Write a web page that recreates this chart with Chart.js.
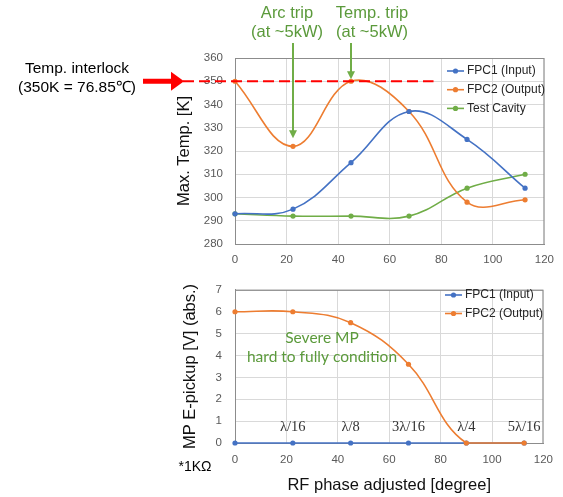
<!DOCTYPE html>
<html>
<head>
<meta charset="utf-8">
<script src="https://cdn.jsdelivr.net/npm/chart.js@4.4.1/dist/chart.umd.min.js"></script>
<style>
html, body { margin: 0; padding: 0; background: #fff; }
#wrap { position: relative; width: 563px; height: 497px; overflow: hidden; }
.box { position: absolute; left: 0; width: 563px; }
#top { top: 0; height: 270px; }
#bot { top: 270px; height: 227px; }
</style>
</head>
<body>
<div id="wrap">
  <div class="box" id="top"><canvas id="tempChart" width="563" height="270"></canvas></div>
  <div class="box" id="bot"><canvas id="mpChart" width="563" height="227"></canvas></div>
</div>
<script>
// phase steps (degree) and readings
const phase = [0, 22.5, 45, 67.5, 90, 112.5];
const tempFpc1 = [293, 295, 315, 337, 325, 304];
const tempFpc2 = [350, 322, 350, 337, 298, 299];
const tempCavity = [293, 292, 292, 292, 304, 310];
const mpFpc1 = [0, 0, 0, 0, 0, 0];
const mpFpc2 = [6, 6, 5.5, 3.6, 0, 0];
const lambdaLabels = ['λ/16', 'λ/8', '3λ/16', 'λ/4', '5λ/16'];
const lambdaPhase = [22.5, 45, 67.5, 90, 112.5];

const phaseMin = 0, phaseMax = 120, phaseStep = 20;
const tempMin = 280, tempMax = 360, tempStep = 10;
const mpMin = 0, mpMax = 7, mpStep = 1;
const interlockTemp = 350;

const blue = '#4472C4';
const orange = '#ED7D31';
const green = '#70AD47';
const textGreen = '#5B9A3B';
const sans = '"Liberation Sans", Arial, sans-serif';

function toPoints(xs, ys) {
    return xs.map((x, i) => ({ x: x, y: ys[i] }));
}

function lineSet(label, xs, ys, color, order) {
    return {
        label: label,
        data: toPoints(xs, ys),
        borderColor: color,
        backgroundColor: color,
        borderWidth: 1.6,
        pointRadius: 2.6,
        pointBorderWidth: 0,
        pointBackgroundColor: color,
        tension: 0.4,
        clip: 5,
        order: order
    };
}

// common axis options, sizes forced so both plots line up
function makeScales(yMin, yMax, yStep, yTitle, xHeight, yPad, xPad, titleTop) {
    return {
        x: {
            type: 'linear', min: phaseMin, max: phaseMax,
            ticks: { stepSize: phaseStep, padding: xPad, color: '#595959', font: { family: sans, size: 11.5 } },
            grid: { color: '#d9d9d9', drawTicks: false },
            border: { color: '#8c8c8c' },
            afterFit: function(s) { s.height = xHeight; }
        },
        y: {
            min: yMin, max: yMax,
            ticks: { stepSize: yStep, padding: yPad, color: '#595959', font: { family: sans, size: 11.5 } },
            grid: { color: '#d9d9d9', drawTicks: false },
            border: { color: '#8c8c8c' },
            title: { display: true, text: yTitle, color: '#111', font: { family: sans, size: 16.5 }, padding: { top: titleTop, bottom: 0 } },
            afterFit: function(s) { s.width = 65; }
        }
    };
}

function drawFrame(chart) {
    let ctx = chart.ctx, a = chart.chartArea;
    ctx.save();
    ctx.strokeStyle = '#8c8c8c';
    ctx.lineWidth = 1;
    ctx.strokeRect(a.left + 0.5, a.top + 0.5, a.right - a.left - 1, a.bottom - a.top);
    ctx.restore();
}

function drawLegend(chart, x, y0, gap) {
    let ctx = chart.ctx;
    ctx.save();
    chart.data.datasets.forEach(function(ds, i) {
        let y = y0 + i * gap;
        ctx.strokeStyle = ds.borderColor;
        ctx.lineWidth = 1.6;
        ctx.beginPath();
        ctx.moveTo(x, y);
        ctx.lineTo(x + 17, y);
        ctx.stroke();
        ctx.fillStyle = ds.borderColor;
        ctx.beginPath();
        ctx.arc(x + 8.5, y, 2.6, 0, Math.PI * 2);
        ctx.fill();
        ctx.fillStyle = '#262626';
        ctx.font = '12px ' + sans;
        ctx.textAlign = 'left';
        ctx.textBaseline = 'middle';
        ctx.fillText(ds.label, x + 20, y);
    });
    ctx.restore();
}

function greenArrow(ctx, x, yTop, yTip) {
    ctx.strokeStyle = green;
    ctx.fillStyle = green;
    ctx.lineWidth = 2;
    ctx.beginPath();
    ctx.moveTo(x, yTop);
    ctx.lineTo(x, yTip - 6);
    ctx.stroke();
    ctx.beginPath();
    ctx.moveTo(x - 4, yTip - 8);
    ctx.lineTo(x + 4, yTip - 8);
    ctx.lineTo(x, yTip);
    ctx.closePath();
    ctx.fill();
}

const tempDecor = {
    id: 'tempDecor',
    beforeDatasetsDraw: function(chart) { drawFrame(chart); },
    afterDatasetsDraw: function(chart) {
        let ctx = chart.ctx;
        let xs = chart.scales.x, ys = chart.scales.y;
        let yLock = ys.getPixelForValue(interlockTemp);
        ctx.save();
        // interlock level
        ctx.strokeStyle = '#FF0000';
        ctx.lineWidth = 2;
        ctx.setLineDash([11, 5]);
        ctx.beginPath();
        ctx.moveTo(183, yLock);
        ctx.lineTo(xs.getPixelForValue(77), yLock);
        ctx.stroke();
        ctx.setLineDash([]);
        // red arrow
        ctx.fillStyle = '#FF0000';
        ctx.fillRect(143, yLock - 2.5, 30, 5);
        ctx.beginPath();
        ctx.moveTo(171, yLock - 9.5);
        ctx.lineTo(184, yLock);
        ctx.lineTo(171, yLock + 9.5);
        ctx.closePath();
        ctx.fill();
        // trip markers
        greenArrow(ctx, xs.getPixelForValue(22.5), 43, ys.getPixelForValue(322) - 8);
        greenArrow(ctx, xs.getPixelForValue(45), 43, ys.getPixelForValue(350) - 2);
        // texts
        ctx.textAlign = 'center';
        ctx.textBaseline = 'middle';
        ctx.fillStyle = textGreen;
        ctx.font = '16.5px ' + sans;
        ctx.fillText('Arc trip', 287, 13);
        ctx.fillText('(at ~5kW)', 287, 32);
        ctx.fillText('Temp. trip', 372, 13);
        ctx.fillText('(at ~5kW)', 372, 32);
        ctx.fillStyle = '#000';
        ctx.font = '15.5px ' + sans;
        ctx.fillText('Temp. interlock', 77, 69);
        ctx.fillText('(350K = 76.85\u2103)', 77, 88);
        ctx.restore();
        drawLegend(chart, 447, 71, 18.7);
    }
};

const mpDecor = {
    id: 'mpDecor',
    beforeDatasetsDraw: function(chart) { drawFrame(chart); },
    afterDatasetsDraw: function(chart) {
        let ctx = chart.ctx;
        let xs = chart.scales.x, ys = chart.scales.y;
        ctx.save();
        ctx.textAlign = 'center';
        ctx.textBaseline = 'middle';
        // phase in wavelengths
        ctx.fillStyle = '#333';
        ctx.font = '14.5px "Liberation Serif", serif';
        let yl = ys.getPixelForValue(0) - 16;
        for (let i = 0; i < lambdaLabels.length; i++) {
            ctx.fillText(lambdaLabels[i], xs.getPixelForValue(lambdaPhase[i]), yl);
        }
        // note
        ctx.fillStyle = textGreen;
        ctx.font = '15px Lato, sans-serif';
        let w = ctx.measureText('hard to fully condition').width;
        ctx.font = (15 * 150 / w).toFixed(2) + 'px Lato, sans-serif';
        ctx.fillText('Severe MP', 322, 68);
        ctx.fillText('hard to fully condition', 322, 87);
        ctx.fillStyle = '#000';
        ctx.font = '14px ' + sans;
        ctx.fillText('*1K\u03A9', 195, 197);
        ctx.restore();
        drawLegend(chart, 445, 25, 18.5);
    }
};

Chart.defaults.font.family = sans;

new Chart(document.getElementById('tempChart'), {
    type: 'line',
    data: {
        datasets: [
            lineSet('FPC1 (Input)', phase, tempFpc1, blue, 0),
            lineSet('FPC2 (Output)', phase, tempFpc2, orange, 1),
            lineSet('Test Cavity', phase, tempCavity, green, 2)
        ]
    },
    options: {
        responsive: false,
        devicePixelRatio: 1,
        animation: false,
        layout: { padding: { left: 170, top: 58, right: 16, bottom: 0 } },
        plugins: { legend: { display: false }, tooltip: { enabled: false } },
        scales: makeScales(tempMin, tempMax, tempStep, 'Max. Temp. [K]', 26, 12, 9, 5)
    },
    plugins: [tempDecor]
});

let mpScales = makeScales(mpMin, mpMax, mpStep, 'MP E-pickup [V] (abs.)', 54, 13, 10, 11);
mpScales.x.title = { display: true, text: 'RF phase adjusted [degree]', color: '#111', font: { family: sans, size: 16.5 }, padding: { top: 0, bottom: 2 } };

new Chart(document.getElementById('mpChart'), {
    type: 'line',
    data: {
        datasets: [
            lineSet('FPC1 (Input)', phase, mpFpc1, blue, 1),
            lineSet('FPC2 (Output)', phase, mpFpc2, orange, 0)
        ]
    },
    options: {
        responsive: false,
        devicePixelRatio: 1,
        animation: false,
        layout: { padding: { left: 170, top: 11, right: 16, bottom: 0 } },
        plugins: { legend: { display: false }, tooltip: { enabled: false } },
        scales: mpScales
    },
    plugins: [mpDecor]
});
</script>
</body>
</html>
